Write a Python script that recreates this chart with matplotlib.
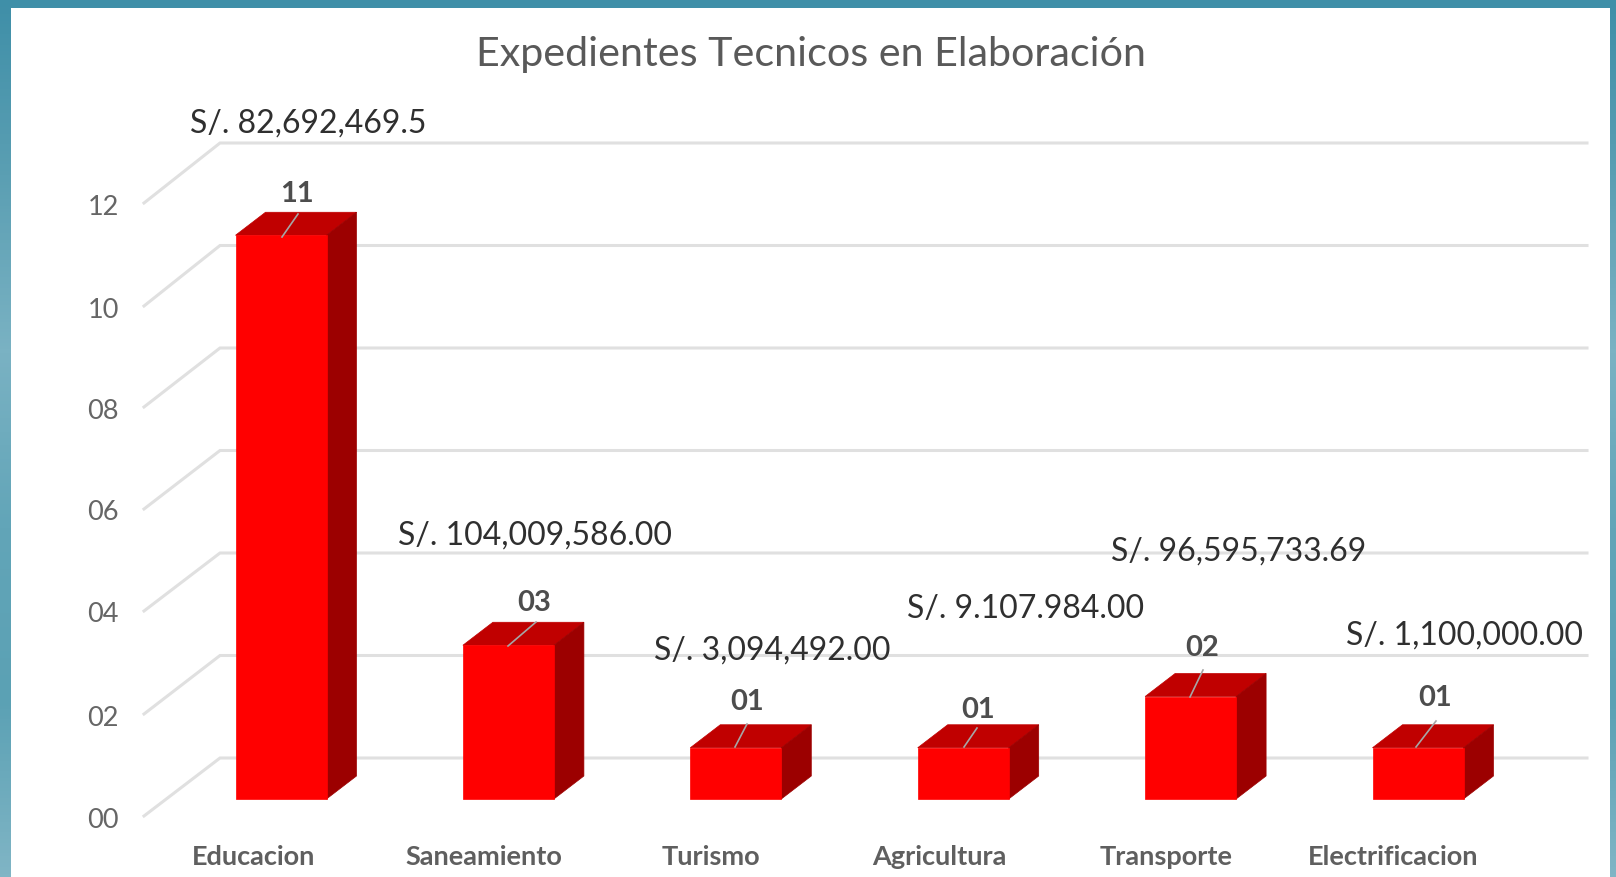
import numpy as np
import matplotlib
matplotlib.use('Agg')
import matplotlib.pyplot as plt
from matplotlib.colors import LinearSegmentedColormap

plt.rcParams['font.family'] = ['Lato', 'DejaVu Sans']

# Datos
categorias = ['Educacion', 'Saneamiento', 'Turismo', 'Agricultura', 'Transporte', 'Electrificacion']
valores = [11, 3, 1, 1, 2, 1]
etiquetas_valor = ['11', '03', '01', '01', '02', '01']
montos = ['S/. 82,692,469.5', 'S/. 104,009,586.00', 'S/. 3,094,492.00',
          'S/. 9.107.984.00', 'S/. 96,595,733.69', 'S/. 1,100,000.00']
ticks = [0, 2, 4, 6, 8, 10, 12]
tick_labels = ['00', '02', '04', '06', '08', '10', '12']

# Escala de la figura (pixeles de la imagen)
W, H = 1616, 877
PX_X = 227.4
PX_Y = 51.25
X0 = 281
Y0 = 799


def px(x, y):
    # pixel de la imagen a coordenadas de datos
    return (x - X0) / PX_X, (Y0 - y) / PX_Y


# Posiciones de los textos en pixeles
monto_pos = [(308, 124), (535, 536), (772, 651), (1026, 609), (1239, 552), (1464, 636)]
valor_pos = [(297, 194), (534, 603), (747, 702), (978, 710), (1202, 648), (1435, 698)]
lider_fin = [(298, 214), (536, 622), (747, 724), (977, 728), (1203, 670), (1436, 721)]
lider_ini = [(282, 237), (508, 646), (735, 747), (964, 747), (1190, 697), (1416, 747)]
cat_pos = [254, 484, 711, 939, 1166, 1393]
tick_px_y = [816, 714, 611, 509, 407, 306, 203]

ancho = 91 / PX_X
prof_x = 30 / PX_X
prof_y = 23 / PX_Y

fig = plt.figure(figsize=(W / 100, H / 100), dpi=100)
ax = fig.add_axes([0, 0, 1, 1])
ax.set_xlim(px(0, 0)[0], px(W, 0)[0])
ax.set_ylim(px(0, H)[1], px(0, 0)[1])
ax.axis('off')

# Fondo teal y panel blanco
cmap = LinearSegmentedColormap.from_list('marco', ['#3f8fa8', '#5b9fb3', '#7ab2c3', '#62a5b8', '#5ba1b4', '#80b5c5'])
xa, yb = px(0, H)
xb, yt = px(W, 0)
ax.imshow(np.linspace(0, 1, 256).reshape(-1, 1), cmap=cmap, aspect='auto',
          extent=[xa, xb, yb, yt], origin='upper', zorder=0)
p0 = px(11, H)
p1 = px(1610, 8)
ax.fill([p0[0], p1[0], p1[0], p0[0]], [p0[1], p0[1], p1[1], p1[1]], color='white', lw=0, zorder=1)

# Pared y lineas de cuadricula
gris = '#e0e0e0'
front_x = px(144, 0)[0]
back_x = px(220, 0)[0]
end_x = px(1587, 0)[0]
back_y0 = px(0, 758)[1]
for t, ty in zip(ticks, tick_px_y):
    fy = px(0, ty)[1]
    by = back_y0 + t
    ax.plot([front_x, back_x, end_x], [fy, by, by], color=gris, lw=2.2, zorder=2,
            solid_joinstyle='miter')
    ax.text(*px(103, ty + 4), tick_labels[ticks.index(t)], ha='center', va='center',
            fontsize=19.5, color='#666666', zorder=6)

# Barras con falsa perspectiva
for i, v in enumerate(valores):
    l = i - ancho / 2
    r = i + ancho / 2
    ax.fill([l, r, r + prof_x, l + prof_x], [v, v, v + prof_y, v + prof_y],
            facecolor='#c00000', edgecolor='#c00000', lw=0.5, zorder=4)
    ax.fill([r, r + prof_x, r + prof_x, r], [0, prof_y, v + prof_y, v],
            facecolor='#9c0000', edgecolor='#9c0000', lw=0.5, zorder=4)
    ax.bar(i, v, width=ancho, color='#ff0000', edgecolor='#ff0000', lw=0.5, zorder=4.5)

# Textos y lineas guia
for i in range(len(valores)):
    a = px(*lider_ini[i])
    b = px(*lider_fin[i])
    ax.plot([a[0], b[0]], [a[1], b[1]], color='#a6a6a6', lw=1.2, zorder=5)
    ax.text(*px(*valor_pos[i]), etiquetas_valor[i], ha='center', va='center',
            fontsize=21, fontweight='bold', color='#4d4d4d', zorder=6)
    ax.text(*px(*monto_pos[i]), montos[i], ha='center', va='center',
            fontsize=23, color='#2f2f2f', zorder=6)
    ax.text(*px(cat_pos[i], 857), categorias[i], ha='center', va='center',
            fontsize=19.5, fontweight='bold', color='#5f5f5f', zorder=6)

ax.text(*px(811, 54), 'Expedientes Tecnicos en Elaboración', ha='center', va='center',
        fontsize=29.7, color='#595959', zorder=6)

fig.savefig('out.png', dpi=100)
